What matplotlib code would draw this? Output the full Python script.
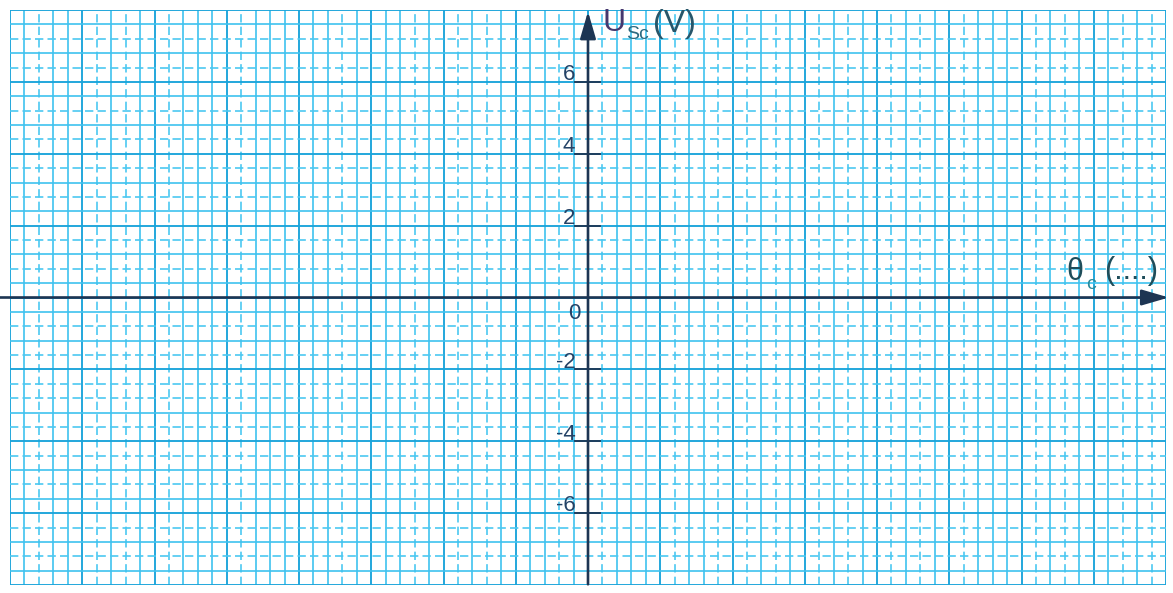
#Draws a blank graph paper sheet with the U_Sc / theta_c axes


import matplotlib.pyplot as plt
import numpy as np

plt.rcParams['font.family'] = ['Liberation Sans', 'DejaVu Sans']

#Axis extent in graph units
xLimits = [-16, 16]
yLimits = [-8, 8]
minorStep = 0.4
majorEvery = 5

#Labelled values on the vertical axis
yTickValues = [6, 4, 2, -2, -4, -6]
yTickLabels = ['6', '4', '2', '-2', '-4', '-6']
originLabel = '0'

#Minor grid lines (counted in minor steps from the origin) printed dashed on the sheet
dashedColumns = [-38, -34, -32, -29, -24, -17, -12, -9, -7, -2, 1, 6, 9, 11, 13, 16, 18, 21, 23, 26, 31, 33, 37, 39]
dashedRows = [18, 16, 13, 11, 9, 7, 4, 2, -2, -4, -6, -7, -9, -11, -13, -16, -18]

axisColor = '#1d3553'
tickTextColor = '#244266'
minorColor = '#3ec2ef'
dashedColor = '#4cc8f1'
majorColor = '#1aa4da'


def drawGridLines(ax, count, dashedList, vertical):

    """
        Draws the printed grid of the sheet in one direction
    """

    for i in range(-count, count + 1):
        pos = i * minorStep
        if i % majorEvery == 0 or abs(i) == count:
            style = dict(color=majorColor, lw=1.35, ls='-')
        elif i in dashedList:
            style = dict(color=dashedColor, lw=1.2, ls=(0, (5, 2.5)))
        else:
            style = dict(color=minorColor, lw=1.2, ls='-')
        if vertical:
            ax.plot([pos, pos], yLimits, zorder=1, **style)
        else:
            ax.plot(xLimits, [pos, pos], zorder=1, **style)

    return


fig = plt.figure(figsize=(11.73, 5.93), dpi=100)
ax = fig.add_axes([10 / 1173, 8 / 593, 1156 / 1173, 575 / 593])
ax.set_xlim(xLimits)
ax.set_ylim(yLimits)
ax.axis('off')

drawGridLines(ax, int(round(xLimits[1] / minorStep)), dashedColumns, True)
drawGridLines(ax, int(round(yLimits[1] / minorStep)), dashedRows, False)

arrowStyle = dict(arrowstyle='-|>,head_length=1.1,head_width=0.32', color=axisColor,
                  lw=1.9, mutation_scale=15, shrinkA=0, shrinkB=0)

#Horizontal axis with arrow
ax.annotate('', xy=(16.08, 0), xytext=(-16.3, 0), annotation_clip=False,
            arrowprops=arrowStyle, zorder=5)

#Vertical axis with arrow
ax.annotate('', xy=(0, 7.96), xytext=(0, -7.98), annotation_clip=False,
            arrowprops=arrowStyle, zorder=5)

#Ticks and labels on the vertical axis
for value, label in zip(yTickValues, yTickLabels):
    ax.plot([-0.35, 0.33], [value, value], color=axisColor, lw=1.3, zorder=5)
    ax.text(-0.35, value + 0.2, label, ha='right', va='center', fontsize=16, color=tickTextColor, zorder=6)

ax.text(-0.22, -0.45, originLabel, ha='right', va='center', fontsize=16, color=tickTextColor, zorder=6)

#Axis names
ax.text(0.4, 7.65, 'U', ha='left', va='center', fontsize=23, color='#45386e', zorder=6)
ax.text(1.05, 7.33, 'Sc', ha='left', va='center', fontsize=14, color='#2c6a80', zorder=6)
ax.text(1.8, 7.6, '(V)', ha='left', va='center', fontsize=23, color='#27566a', zorder=6)

ax.text(13.25, 0.7, 'θ', ha='left', va='center', fontsize=22, color='#1f4d5a', zorder=6)
ax.text(13.8, 0.36, 'c', ha='left', va='center', fontsize=14, color='#2a8a9a', zorder=6)
ax.text(14.3, 0.75, '(....)', ha='left', va='center', fontsize=22, color='#1f4d5a', zorder=6)

plt.savefig('out.png', dpi=100)
plt.close()
